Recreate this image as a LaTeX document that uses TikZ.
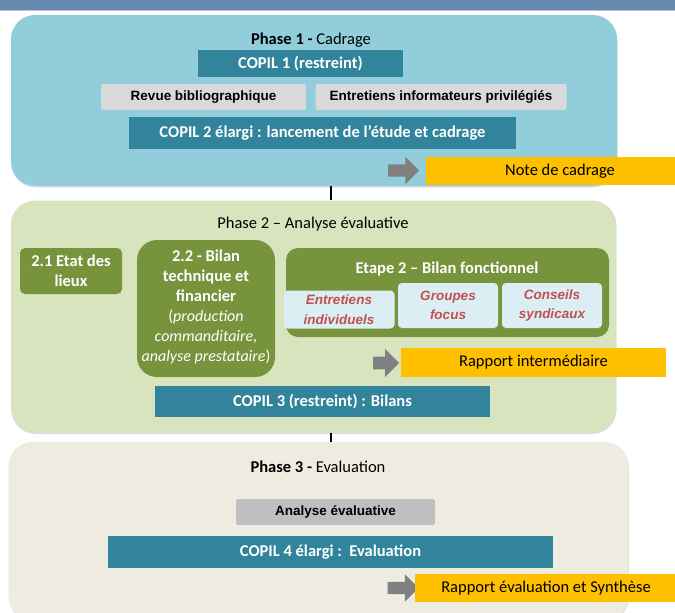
\documentclass[tikz,border=0pt]{standalone}
\usepackage{fontspec}
\setmainfont{Carlito}
\newfontfamily\arialfont{Liberation Sans}
\usetikzlibrary{shapes.arrows,shadows}

\definecolor{topbar}{HTML}{6589AF}
\definecolor{phaseA}{HTML}{92CDDC}
\definecolor{phaseB}{HTML}{D7E4BD}
\definecolor{phaseC}{HTML}{EEECE1}
\definecolor{copil}{HTML}{31849B}
\definecolor{olive}{HTML}{77933C}
\definecolor{paleblue}{HTML}{DBEEF4}
\definecolor{redtxt}{HTML}{C0504D}
\definecolor{livrable}{HTML}{FFC000}

\newcommand{\petit}{\fontsize{16}{19}\selectfont}

\begin{document}
\begin{tikzpicture}[x=1pt,y=-1pt,
  phase/.style={rounded corners=24pt,inner sep=0pt,
    drop shadow={opacity=0.25,shadow xshift=0.5pt,shadow yshift=-1.5pt}},
  title/.style={font=\fontsize{16.5}{18}\selectfont,inner sep=0pt},
  copilbox/.style={fill=copil,text=white,font=\bfseries\fontsize{16.5}{18}\selectfont,inner sep=0pt},
  taskbox/.style={fill=black!15,rounded corners=2pt,inner sep=0pt,
    font=\arialfont\bfseries\fontsize{13.5}{15}\selectfont},
  olivebox/.style={fill=olive,text=white,align=center,inner sep=0pt,
    font=\bfseries\fontsize{16.5}{20}\selectfont},
  subbox/.style={fill=paleblue,rounded corners=4pt,text=redtxt,align=center,inner sep=0pt,
    font=\arialfont\bfseries\itshape\fontsize{13.5}{19.5}\selectfont},
  livbox/.style={fill=livrable,inner sep=0pt,font=\fontsize{16.5}{18}\selectfont},
  flecha/.style={single arrow,fill=black!50,inner sep=6pt,single arrow head extend=7.5pt,
    minimum width=27pt,minimum height=31pt},
  link/.style={line width=2pt,black}]

\useasboundingbox (0,0) rectangle (675,613);
\fill[white] (0,0) rectangle (675,613);
\fill[topbar] (0,0) rectangle (675,10);
\fill[topbar!60!violet!40] (0,10) rectangle (675,11);

% Phase 1
\node[phase,fill=phaseA,minimum width=606pt,minimum height=171pt] (ph1) at (314,100.5) {};
\node[title] (t1) at (311,40) {\textbf{Phase 1 -} Cadrage};
\node[copilbox,minimum width=205pt,minimum height=27pt] (c1) at (300.5,63.5) {COPIL 1 (restreint)};
\node[taskbox,minimum width=205pt,minimum height=26pt] (revue) at (203.5,97) {Revue bibliographique};
\node[taskbox,minimum width=251pt,minimum height=26pt] (infor) at (441,97) {Entretiens informateurs privilégiés};
\node[copilbox,minimum width=387pt,minimum height=32pt] (c2) at (322.5,133) {COPIL 2 élargi : lancement de l’étude et cadrage};
\node[flecha] (a1) at (400.5,170.5) {};
\node[livbox,minimum width=268pt,minimum height=28pt] (note) at (560,171) {Note de cadrage};

% Phase 2
\node[phase,fill=phaseB,minimum width=605pt,minimum height=232pt] (ph2) at (313.5,316.5) {};
\node[title] (t2) at (313,224) {Phase 2 – Analyse évaluative};
\node[olivebox,rounded corners=5pt,minimum width=102pt,minimum height=46pt] (e21) at (71,271) {2.1 Etat des\\lieux};
\node[olivebox,rounded corners=20pt,minimum width=138pt,minimum height=137pt] (b22) at (206,308.5) {};
\node[align=center,text=white,inner sep=0pt,font=\fontsize{16.5}{20}\selectfont] (b22t) at (206,307)
  {\textbf{2.2 - Bilan}\\\textbf{technique et}\\\textbf{financier}\\
  \petit(\textit{production}\\\petit\textit{commanditaire,}\\\petit\textit{analyse prestataire})};
\node[olivebox,rounded corners=12pt,minimum width=323pt,minimum height=89pt] (et2) at (447.5,292.5) {};
\node[text=white,inner sep=0pt,font=\bfseries\fontsize{16.5}{18}\selectfont] (et2t) at (447,269) {Etape 2 – Bilan fonctionnel};
\node[subbox,minimum width=111pt,minimum height=38pt] (s1) at (339,309.5) {Entretiens\\individuels};
\node[subbox,minimum width=100pt,minimum height=45pt] (s2) at (448,305.5) {Groupes\\focus};
\node[subbox,minimum width=100pt,minimum height=45pt] (s3) at (552,305.5) {Conseils\\syndicaux};
\node[flecha,minimum width=28pt,minimum height=26pt] (a2) at (383,363) {};
\node[livbox,minimum width=265pt,minimum height=29pt] (rap1) at (533.5,362.5) {Rapport intermédiaire};
\node[copilbox,minimum width=335pt,minimum height=31pt] (c3) at (322.5,401.5) {COPIL 3 (restreint) : Bilans};

% Phase 3
\node[phase,fill=phaseC,minimum width=620pt,minimum height=178pt] (ph3) at (318.5,531) {};
\node[title] (t3) at (318,467) {\textbf{Phase 3 -} Evaluation};
\node[taskbox,fill=black!25,minimum width=199pt,minimum height=26pt] (anal) at (335.5,512) {Analyse évaluative};
\node[copilbox,minimum width=445pt,minimum height=32pt] (c4) at (330.5,552) {COPIL 4 élargi :\ \ Evaluation};
\node[flecha] (a3) at (400,588) {};
\node[livbox,minimum width=262pt,minimum height=28pt] (rap2) at (546,588) {Rapport évaluation et Synthèse};

% liaisons
\coordinate (axe) at (331,0);
\draw[link] (ph1.south -| axe) -- (ph2.north -| axe);
\draw[link] (ph2.south -| axe) -- (ph3.north -| axe);

\end{tikzpicture}
\end{document}
